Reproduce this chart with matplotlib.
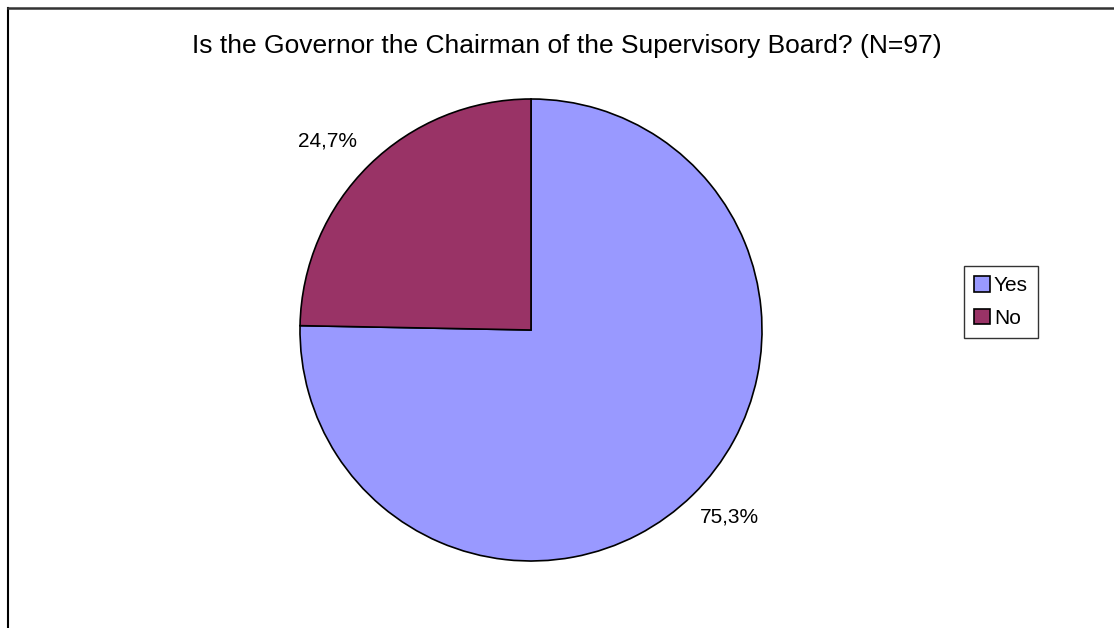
import matplotlib.pyplot as plt
from matplotlib.lines import Line2D

plt.rcParams['font.family'] = ['Liberation Sans', 'DejaVu Sans']

# survey answers
answers = ["Yes", "No"]
shares = [75.3, 24.7]
colors = ["#9999FF", "#993366"]
title = "Is the Governor the Chairman of the Supervisory Board? (N=97)"

fig = plt.figure(figsize=(11.14, 6.28), dpi=100)

# pie axis: center at (531, 330) px, radius 231 px
cx, cy, r = 531, 330, 231
W, H = 1114, 628
ax = fig.add_axes([(cx - r) / W, (H - cy - r) / H, 2 * r / W, 2 * r / H])

wedges, texts, autotexts = ax.pie(
    shares, colors=colors, startangle=90, counterclock=False,
    autopct=lambda p: ("%.1f%%" % p).replace(".", ","), pctdistance=1.2,
    wedgeprops=dict(edgecolor="black", linewidth=1.2),
    textprops=dict(fontsize=15, color="black"))
ax.set_aspect("equal")
ax.set_xlim(-1, 1)
ax.set_ylim(-1, 1)

# small nudges so the labels sit like the spreadsheet's outside-end labels
for t, (dx, dy) in zip(autotexts, [(0.02, 0.045), (-0.04, -0.04)]):
    x, y = t.get_position()
    t.set_position((x + dx, y + dy))

fig.text(567 / W, 1 - 46 / H, title, ha="center", va="center", fontsize=19)

# chart frame (left and top edges only)
fig.add_artist(Line2D([8 / W, 8 / W], [0, 1 - 8 / H], color="black", lw=1.5))
fig.add_artist(Line2D([8 / W, 1], [1 - 8 / H, 1 - 8 / H], color="#333333", lw=1.8))

leg = fig.legend(wedges, answers, loc="center", bbox_to_anchor=(1001 / W, 1 - 302 / H),
                 fontsize=15, frameon=True, fancybox=False, handlelength=0.75,
                 handleheight=0.75, handletextpad=0.2, borderpad=0.5,
                 labelspacing=0.65, borderaxespad=0)
leg.get_frame().set_edgecolor("black")
leg.get_frame().set_linewidth(1.0)

fig.savefig("out.png", dpi=100)
